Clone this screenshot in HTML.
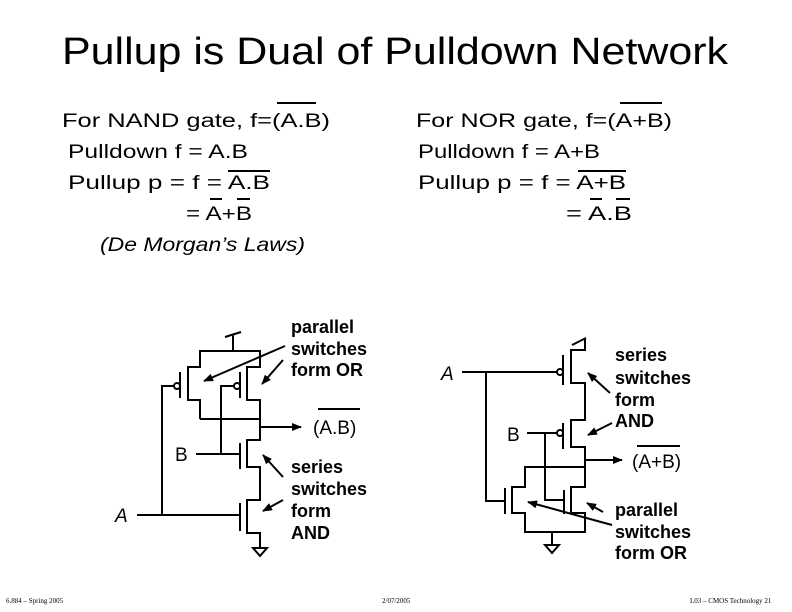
<!DOCTYPE html>
<html><head><meta charset="utf-8"><style>
html,body{margin:0;padding:0;background:#fff;}
svg{display:block;}
text{font-family:"Liberation Sans",sans-serif;fill:#000;}
.t{font-size:19px;}
.l{font-size:18px;font-weight:bold;}
</style></head><body>
<svg width="792" height="612" viewBox="0 0 792 612" xmlns="http://www.w3.org/2000/svg">
<defs><marker id="ah" markerWidth="10" markerHeight="8" refX="9" refY="4" orient="auto" markerUnits="userSpaceOnUse"><path d="M0,0 L10,4 L0,8 z" fill="#000"/></marker></defs>
<text x="62" y="64" font-size="38" textLength="666" lengthAdjust="spacingAndGlyphs">Pullup is Dual of Pulldown Network</text>

<g class="t">
<text x="62" y="127" textLength="268" lengthAdjust="spacingAndGlyphs">For NAND gate, f=(A.B)</text>
<text x="68" y="158" textLength="180" lengthAdjust="spacingAndGlyphs">Pulldown f = A.B</text>
<text x="68" y="189" textLength="202" lengthAdjust="spacingAndGlyphs">Pullup p = f = A.B</text>
<text x="186" y="220" textLength="66" lengthAdjust="spacingAndGlyphs">= A+B</text>
<text x="100" y="251" font-style="italic" textLength="205" lengthAdjust="spacingAndGlyphs">(De Morgan’s Laws)</text>
<text x="416" y="127" textLength="256" lengthAdjust="spacingAndGlyphs">For NOR gate, f=(A+B)</text>
<text x="418" y="158" textLength="182" lengthAdjust="spacingAndGlyphs">Pulldown f = A+B</text>
<text x="418" y="189" textLength="208" lengthAdjust="spacingAndGlyphs">Pullup p = f  = A+B</text>
<text x="566" y="220" textLength="66" lengthAdjust="spacingAndGlyphs">= A.B</text>
</g>
<g stroke="#000" stroke-width="2">
<line x1="277" y1="103" x2="316" y2="103"/>
<line x1="228" y1="171" x2="270" y2="171"/>
<line x1="210" y1="199" x2="222" y2="199"/>
<line x1="237" y1="199" x2="250" y2="199"/>
<line x1="620" y1="103" x2="662" y2="103"/>
<line x1="578" y1="171" x2="626" y2="171"/>
<line x1="590" y1="199" x2="602" y2="199"/>
<line x1="616" y1="199" x2="630" y2="199"/>
</g>

<!-- Left NAND circuit -->
<g stroke="#000" stroke-width="2" fill="none">
<line x1="225" y1="337" x2="241" y2="332"/>
<line x1="233" y1="335" x2="233" y2="351"/>
<polyline points="200,419 200,400 188,400 188,367 200,367 200,351 260,351 260,367 247,367 247,400 260,400 260,440 247,440 247,467 260,467 260,500 247,500 247,533 260,533 260,548"/>
<line x1="200" y1="419" x2="260" y2="419"/>
<line x1="180" y1="372" x2="180" y2="398"/>
<line x1="240" y1="372" x2="240" y2="398"/>
<line x1="240" y1="443" x2="240" y2="469"/>
<line x1="240" y1="503" x2="240" y2="531"/>
<circle cx="177" cy="386" r="3"/>
<circle cx="237" cy="386" r="3"/>
<polyline points="174,386 162,386 162,515"/>
<polyline points="234,386 221,386 221,454"/>
<line x1="137" y1="515" x2="240" y2="515"/>
<line x1="196" y1="454" x2="240" y2="454"/>
<path d="M253,548 L267,548 L260,556 Z"/>
<line x1="260" y1="427" x2="301" y2="427" marker-end="url(#ah)"/>
<line x1="285" y1="346" x2="204" y2="381" marker-end="url(#ah)"/>
<line x1="283" y1="360" x2="262" y2="384" marker-end="url(#ah)"/>
<line x1="283" y1="477" x2="263" y2="455" marker-end="url(#ah)"/>
<line x1="283" y1="500" x2="263" y2="511" marker-end="url(#ah)"/>
<line x1="318" y1="409" x2="360" y2="409"/>
</g>
<g class="l">
<text x="291" y="333">parallel</text>
<text x="291" y="355">switches</text>
<text x="291" y="376">form OR</text>
<text x="313" y="434" font-weight="normal" font-size="19">(A.B)</text>
<text x="291" y="473">series</text>
<text x="291" y="495">switches</text>
<text x="291" y="517">form</text>
<text x="291" y="539">AND</text>
<text x="175" y="461" font-weight="normal" font-size="19">B</text>
<text x="115" y="522" font-weight="normal" font-size="19" font-style="italic">A</text>
</g>

<!-- Right NOR circuit -->
<g stroke="#000" stroke-width="2" fill="none">
<line x1="572" y1="345" x2="586" y2="338"/>
<polyline points="585,339 585,350 571,350 571,383 585,383 585,420 571,420 571,447 585,447 585,487 571,487 571,513 585,513 585,532 525,532 525,513 512,513 512,487 525,487 525,467 585,467"/>
<line x1="563" y1="355" x2="563" y2="385"/>
<line x1="563" y1="423" x2="563" y2="449"/>
<line x1="505" y1="488" x2="505" y2="514"/>
<line x1="564" y1="490" x2="564" y2="514"/>
<circle cx="560" cy="372" r="3"/>
<circle cx="560" cy="433" r="3"/>
<line x1="462" y1="372" x2="557" y2="372"/>
<polyline points="486,372 486,501 505,501"/>
<line x1="527" y1="433" x2="557" y2="433"/>
<polyline points="545,433 545,500 564,500"/>
<line x1="552" y1="532" x2="552" y2="545"/>
<path d="M545,545 L559,545 L552,553 Z"/>
<line x1="585" y1="460" x2="622" y2="460" marker-end="url(#ah)"/>
<line x1="610" y1="393" x2="588" y2="373" marker-end="url(#ah)"/>
<line x1="612" y1="423" x2="588" y2="435" marker-end="url(#ah)"/>
<line x1="603" y1="512" x2="587" y2="503" marker-end="url(#ah)"/>
<line x1="612" y1="525" x2="528" y2="502" marker-end="url(#ah)"/>
<line x1="637" y1="446" x2="680" y2="446"/>
</g>
<g class="l">
<text x="615" y="361">series</text>
<text x="615" y="384">switches</text>
<text x="615" y="406">form</text>
<text x="615" y="427">AND</text>
<text x="632" y="468" font-weight="normal" font-size="19">(A+B)</text>
<text x="615" y="516">parallel</text>
<text x="615" y="538">switches</text>
<text x="615" y="559">form OR</text>
<text x="441" y="380" font-weight="normal" font-size="19" font-style="italic">A</text>
<text x="507" y="441" font-weight="normal" font-size="19">B</text>
</g>

<g>
<text x="6" y="603" style="font-family:'Liberation Serif',serif;font-size:7px">6.884 – Spring 2005</text>
<text x="382" y="603" style="font-family:'Liberation Serif',serif;font-size:7px">2/07/2005</text>
<text x="690" y="603" style="font-family:'Liberation Serif',serif;font-size:7px">L03 – CMOS Technology   21</text>
</g>
</svg>
</body></html>
